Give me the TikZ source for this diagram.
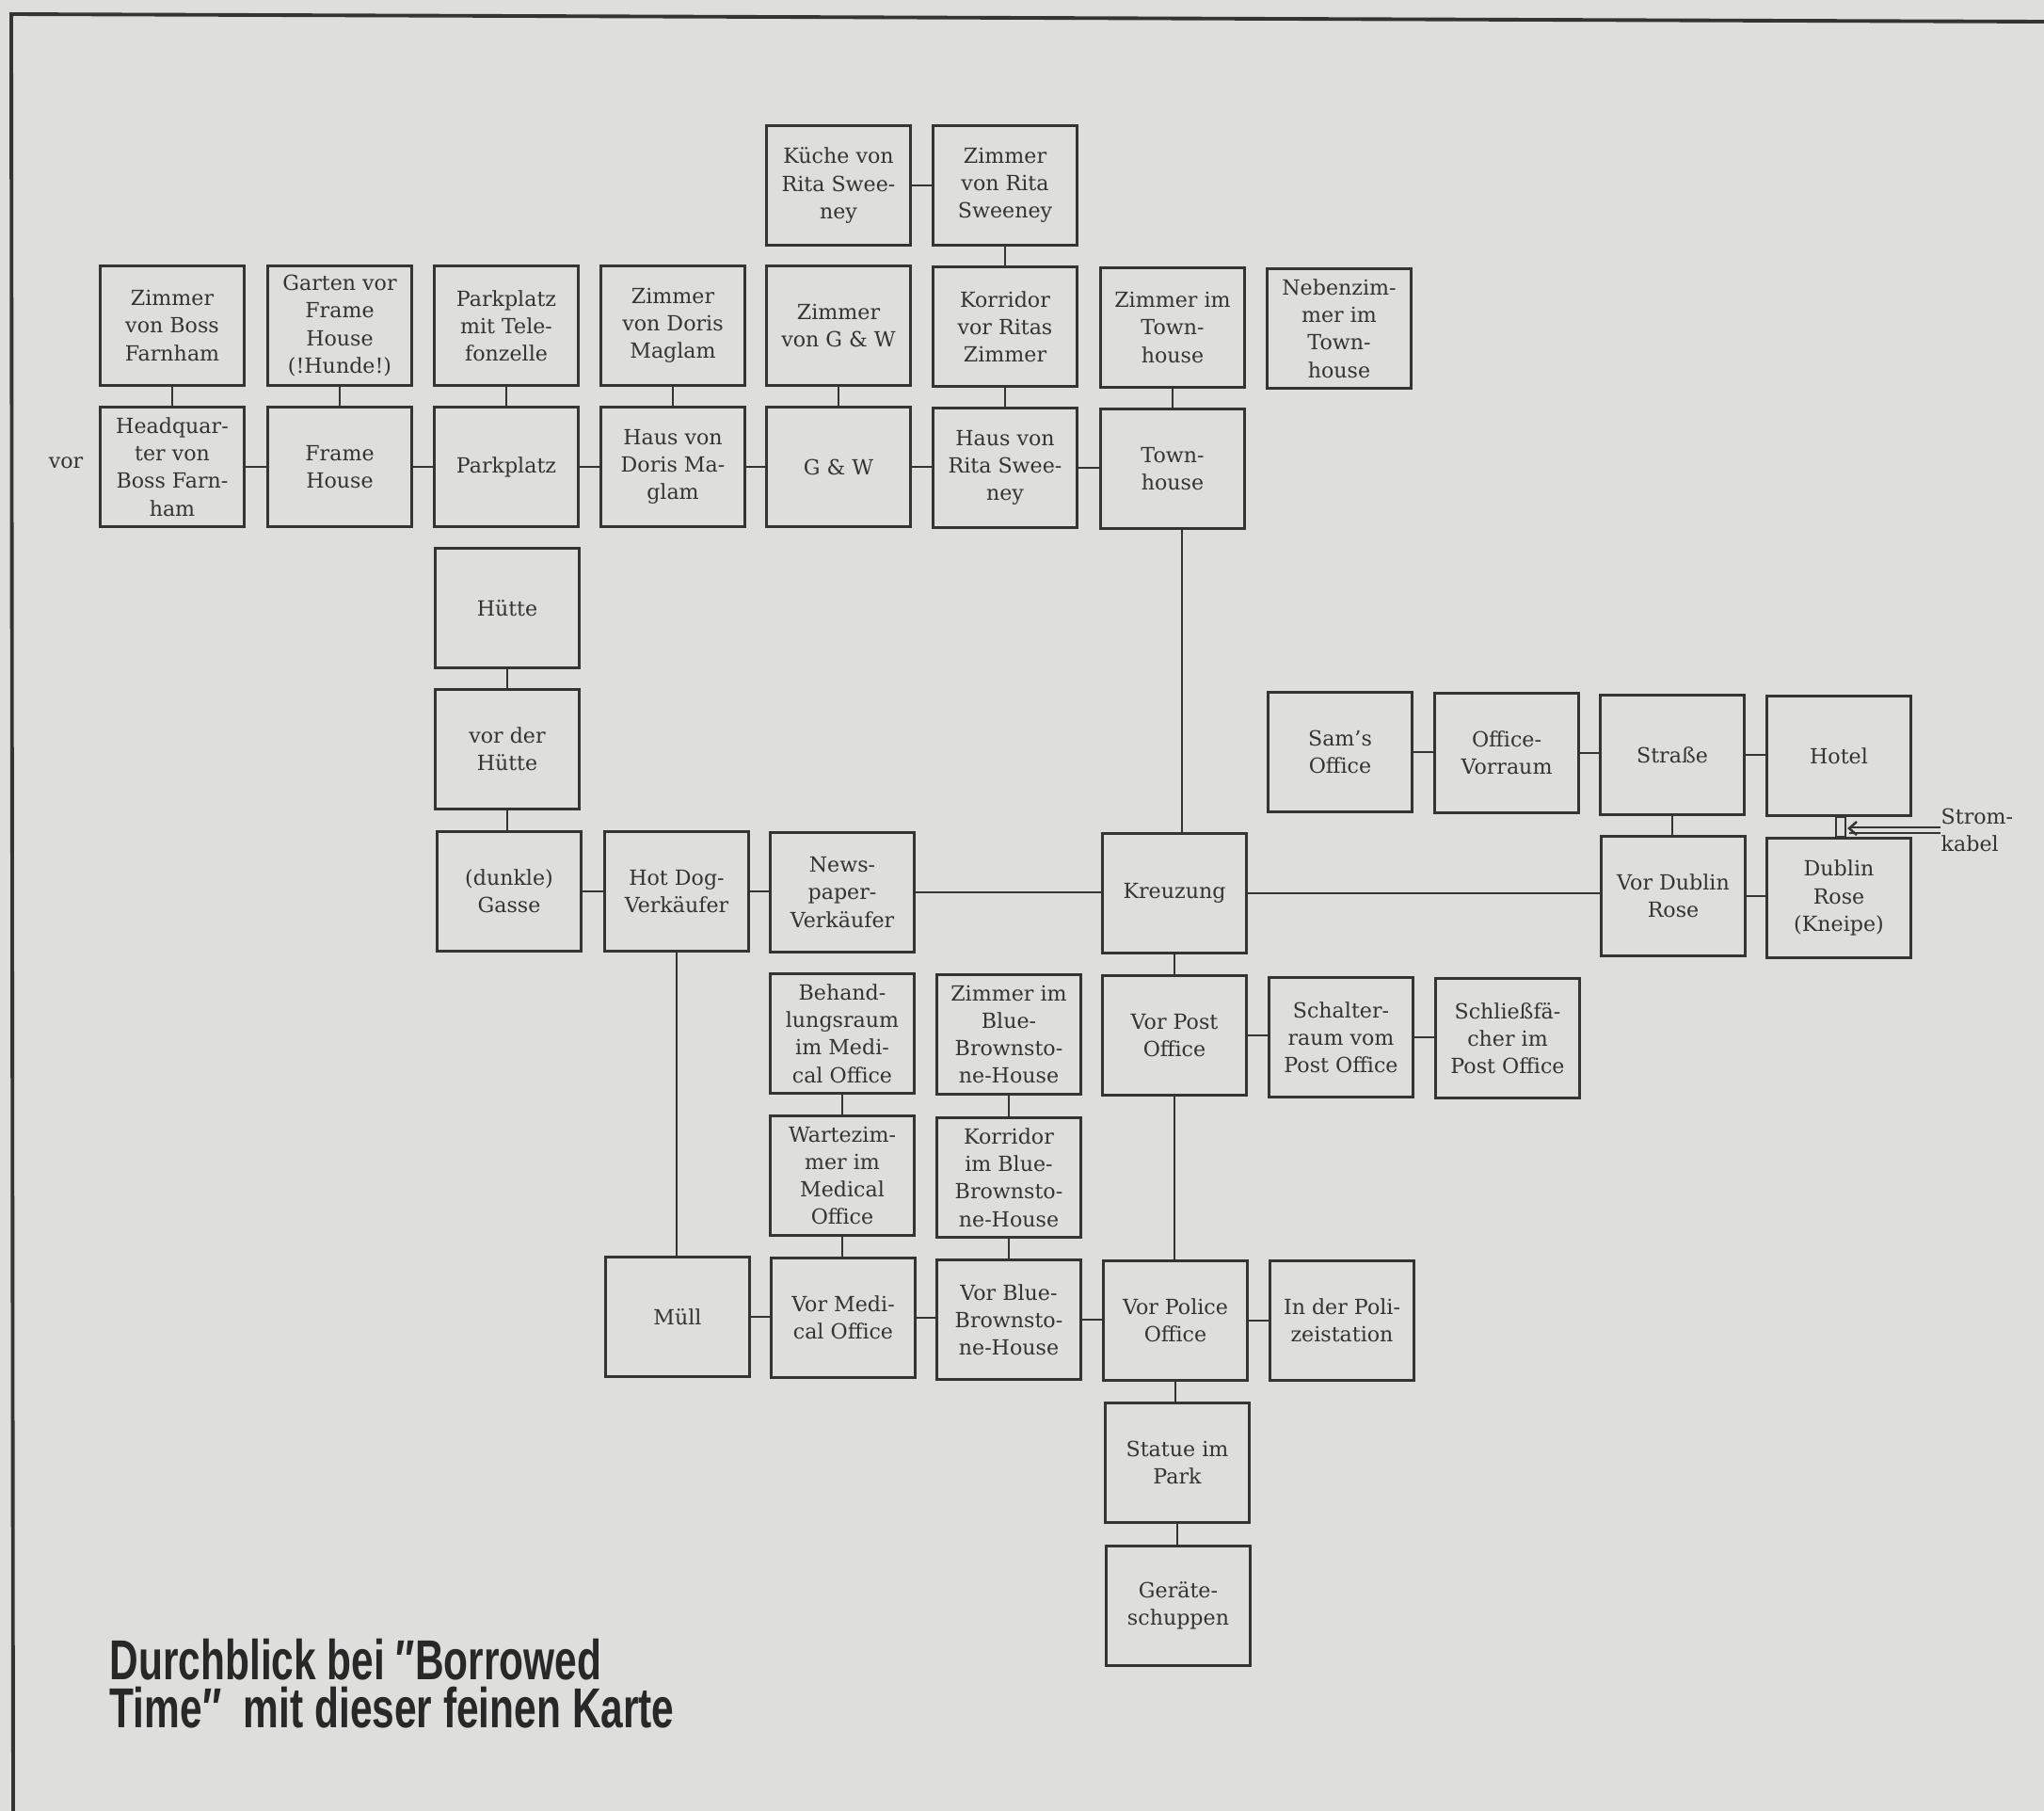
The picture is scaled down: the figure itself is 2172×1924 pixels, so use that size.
\documentclass[tikz,border=0pt]{standalone}
\usepackage{fontspec}
\setmainfont{DejaVu Serif}
\newfontfamily\titlefont[FakeStretch=0.71]{Liberation Sans}
\definecolor{paper}{RGB}{222,222,220}
\definecolor{ink}{RGB}{52,52,52}
\definecolor{titleink}{RGB}{40,40,40}
\tikzset{
  room/.style={draw=ink, line width=0.85pt, minimum width=1.53cm, minimum height=1.26cm,
    inner sep=0pt, align=center, text=ink, font=\fontsize{6.3}{8.3}\selectfont},
  link/.style={draw=ink, line width=0.8pt},
  lbl/.style={text=ink, inner sep=0pt, align=left, font=\fontsize{6.3}{8.3}\selectfont},
  titletext/.style={anchor=north west, inner sep=0pt, text=titleink, align=left,
    font=\titlefont\bfseries\fontsize{17}{14.5}\selectfont},
}
\begin{document}
\begin{tikzpicture}[x=0.01cm,y=-0.01cm]
\fill[paper] (0,0) rectangle (2172,1924);
\useasboundingbox (0,0) rectangle (2172,1924);
% frame
\coordinate (fA) at (2172,23);
\coordinate (fB) at (12,15);
\coordinate (fC) at (14,1924);
\draw[ink, line width=1.1pt] (fA) -- (fB) -- (fC);

% row 0
\node[room] (kuche) at (891,197) {Küche von\\Rita Swee-\\ney};
\node[room] (zrita) at (1068,197) {Zimmer\\von Rita\\Sweeney};
% row 1
\node[room] (zboss) at (183,346) {Zimmer\\von Boss\\Farnham};
\node[room] (garten) at (361,346) {Garten vor\\Frame\\House\\(!Hunde!)};
\node[room] (ptele) at (538,346) {Parkplatz\\mit Tele-\\fonzelle};
\node[room] (zdoris) at (715,346) {Zimmer\\von Doris\\Maglam};
\node[room] (zgw) at (891,346) {Zimmer\\von G \& W};
\node[room] (korr) at (1068,347) {Korridor\\vor Ritas\\Zimmer};
\node[room] (ztown) at (1246,348) {Zimmer im\\Town-\\house};
\node[room] (neben) at (1423,349) {Nebenzim-\\mer im\\Town-\\house};
% row 2
\node[lbl, anchor=center] (vor) at (70,492) {vor};
\node[room] (hq) at (183,496) {Headquar-\\ter von\\Boss Farn-\\ham};
\node[room] (frame) at (361,496) {Frame\\House};
\node[room] (park) at (538,496) {Parkplatz};
\node[room] (hdoris) at (715,496) {Haus von\\Doris Ma-\\glam};
\node[room] (gw) at (891,496) {G \& W};
\node[room] (hrita) at (1068,497) {Haus von\\Rita Swee-\\ney};
\node[room] (town) at (1246,498) {Town-\\house};
% rows 3-4
\node[room] (huette) at (539,646) {Hütte};
\node[room] (vhuette) at (539,796) {vor der\\Hütte};
\node[room] (sam) at (1424,799) {Sam's\\Office};
\node[room] (vorraum) at (1601,800) {Office-\\Vorraum};
\node[room] (strasse) at (1777,802) {Straße};
\node[room] (hotel) at (1954,803) {Hotel};
% row 5
\node[room] (gasse) at (541,947) {(dunkle)\\Gasse};
\node[room] (hotdog) at (719,947) {Hot Dog-\\Verkäufer};
\node[room] (news) at (895,948) {News-\\paper-\\Verkäufer};
\node[room] (kreuz) at (1248,949) {Kreuzung};
\node[room] (vdub) at (1778,952) {Vor Dublin\\Rose};
\node[room] (dub) at (1954,954) {Dublin\\Rose\\(Kneipe)};
% row 6
\node[room] (behand) at (895,1098) {Behand-\\lungsraum\\im Medi-\\cal Office};
\node[room] (zblue) at (1072,1099) {Zimmer im\\Blue-\\Brownsto-\\ne-House};
\node[room] (vpost) at (1248,1100) {Vor Post\\Office};
\node[room] (schalter) at (1425,1102) {Schalter-\\raum vom\\Post Office};
\node[room] (schliess) at (1602,1103) {Schließfä-\\cher im\\Post Office};
% row 7
\node[room] (warte) at (895,1249) {Wartezim-\\mer im\\Medical\\Office};
\node[room] (kblue) at (1072,1251) {Korridor\\im Blue-\\Brownsto-\\ne-House};
% row 8
\node[room] (muell) at (720,1399) {Müll};
\node[room] (vmed) at (896,1400) {Vor Medi-\\cal Office};
\node[room] (vblue) at (1072,1402) {Vor Blue-\\Brownsto-\\ne-House};
\node[room] (vpol) at (1249,1403) {Vor Police\\Office};
\node[room] (polst) at (1426,1403) {In der Poli-\\zeistation};
% rows 9-10
\node[room] (statue) at (1251,1554) {Statue im\\Park};
\node[room] (geraete) at (1252,1706) {Geräte-\\schuppen};

% Stromkabel
\node[lbl, anchor=west] (strom) at (2062,882) {Strom-\\kabel};

% horizontal links
\foreach \a/\b in {kuche/zrita, hq/frame, frame/park, park/hdoris, hdoris/gw, gw/hrita, hrita/town,
  sam/vorraum, vorraum/strasse, strasse/hotel, gasse/hotdog, hotdog/news, news/kreuz, kreuz/vdub,
  vdub/dub, vpost/schalter, schalter/schliess, muell/vmed, vmed/vblue, vblue/vpol, vpol/polst}
  \draw[link] (\a.east) -- (\a.east -| \b.west);

% vertical links
\foreach \a/\b in {zrita/korr, zboss/hq, garten/frame, ptele/park, zdoris/hdoris, zgw/gw, korr/hrita,
  ztown/town, huette/vhuette, vhuette/gasse, strasse/vdub, kreuz/vpost, behand/warte, warte/vmed,
  zblue/kblue, kblue/vblue, vpol/statue, statue/geraete, hotdog/muell, vpost/vpol}
  \draw[link] (\a.south) -- (\a.south |- \b.north);

% Townhouse to Kreuzung (offset line)
\draw[link] ([xshift=0.1cm]town.south) -- ([xshift=0.1cm]town.south |- kreuz.north);

% Hotel - Dublin Rose small connector and cable arrow
\draw[link, line width=0.6pt] (hotel.south -| 1951,0) rectangle (dub.north -| 1961,0);
\coordinate (tip) at (1965,880);
\draw[link, line width=0.5pt] ([yshift=0.8pt]strom.west) -- ([yshift=0.8pt]strom.west -| tip);
\draw[link, line width=0.5pt] ([yshift=-0.8pt]strom.west) -- ([yshift=-0.8pt]strom.west -| tip);
\draw[link, line width=0.7pt] ([shift={(8,-7)}]tip) -- (tip) -- ([shift={(8,7)}]tip);

% title
\node[titletext] (title) at (116,1740) {Durchblick bei ″Borrowed\\Time″\ \ mit dieser feinen Karte};
\end{tikzpicture}
\end{document}
